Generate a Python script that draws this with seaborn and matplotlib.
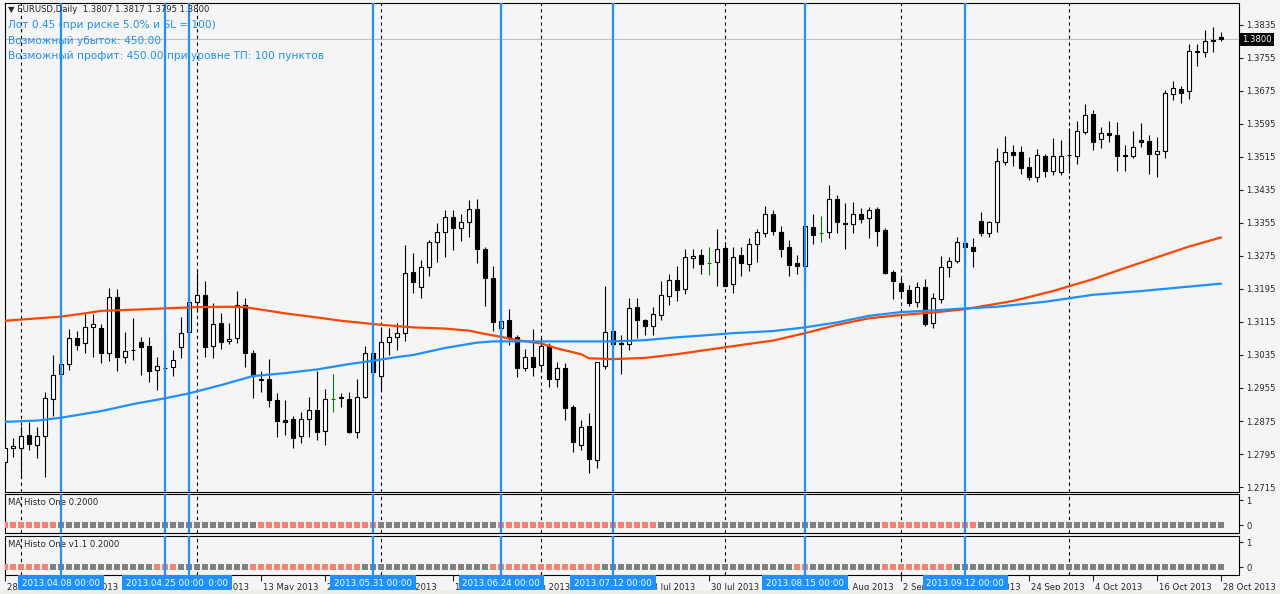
import numpy as np
import pandas as pd
import seaborn as sns
import matplotlib
matplotlib.use('Agg')
import matplotlib.pyplot as plt
from matplotlib.patches import Rectangle
from matplotlib.transforms import blended_transform_factory, ScaledTranslation

W, H = 1280, 594

# дневные бары EURUSD
dates = pd.bdate_range('2013-03-28', '2013-10-28')

opens = [1.2775, 1.2809, 1.2809, 1.2841, 1.2816, 1.2838, 1.2928, 1.2988, 1.3013, 1.3076,
         1.3063, 1.3102, 1.3100, 1.3041, 1.3175, 1.3029, 1.3048, 1.3066, 1.3057, 1.2999,
         1.3004, 1.3005, 1.3055, 1.3090, 1.3163, 1.3180, 1.3057, 1.3112, 1.3068, 1.3076,
         1.3156, 1.3041, 1.2977, 1.2977, 1.2926, 1.2877, 1.2880, 1.2839, 1.2880, 1.2902,
         1.2851, 1.2928, 1.2932, 1.2928, 1.2848, 1.2934, 1.3041, 1.2985, 1.3066, 1.3078,
         1.3088, 1.3236, 1.3199, 1.3249, 1.3308, 1.3334, 1.3369, 1.3342, 1.3358, 1.3388,
         1.3291, 1.3221, 1.3100, 1.3119, 1.3078, 1.3003, 1.3031, 1.3010, 1.3057, 1.2976,
         1.3003, 1.2908, 1.2816, 1.2864, 1.2780, 1.3008, 1.3092, 1.3063, 1.3061, 1.3151,
         1.3120, 1.3106, 1.3131, 1.3179, 1.3218, 1.3194, 1.3270, 1.3277, 1.3257, 1.3260,
         1.3294, 1.3206, 1.3277, 1.3255, 1.3303, 1.3330, 1.3377, 1.3332, 1.3296, 1.3257,
         1.3251, 1.3345, 1.3331, 1.3332, 1.3412, 1.3356, 1.3352, 1.3377, 1.3366, 1.3389,
         1.3338, 1.3236, 1.3209, 1.3193, 1.3163, 1.3199, 1.3113, 1.3170, 1.3249, 1.3263,
         1.3306, 1.3296, 1.3360, 1.3330, 1.3358, 1.3504, 1.3527, 1.3527, 1.3490, 1.3466,
         1.3518, 1.3482, 1.3478, 1.3519, 1.3518, 1.3576, 1.3619, 1.3558, 1.3572, 1.3568,
         1.3521, 1.3518, 1.3556, 1.3554, 1.3522, 1.3530, 1.3668, 1.3679, 1.3675, 1.3770,
         1.3770, 1.3799, 1.3807]
highs = [1.2841, 1.2835, 1.2863, 1.2873, 1.2861, 1.2946, 1.3035, 1.3033, 1.3098, 1.3093,
         1.3134, 1.3134, 1.3110, 1.3197, 1.3194, 1.3091, 1.3124, 1.3078, 1.3078, 1.3031,
         1.3092, 1.3047, 1.3128, 1.3182, 1.3237, 1.3214, 1.3160, 1.3138, 1.3113, 1.3190,
         1.3174, 1.3047, 1.2997, 1.3025, 1.2942, 1.2926, 1.2886, 1.2898, 1.2932, 1.2995,
         1.2952, 1.2989, 1.2944, 1.2945, 1.2976, 1.3057, 1.3057, 1.3104, 1.3100, 1.3112,
         1.3302, 1.3282, 1.3265, 1.3314, 1.3356, 1.3387, 1.3387, 1.3377, 1.3411, 1.3413,
         1.3296, 1.3251, 1.3135, 1.3147, 1.3083, 1.3049, 1.3097, 1.3076, 1.3063, 1.3019,
         1.3016, 1.2914, 1.2877, 1.2894, 1.3019, 1.3202, 1.3098, 1.3083, 1.3172, 1.3174,
         1.3122, 1.3152, 1.3214, 1.3231, 1.3250, 1.3292, 1.3292, 1.3292, 1.3296, 1.3340,
         1.3310, 1.3296, 1.3298, 1.3318, 1.3340, 1.3396, 1.3387, 1.3348, 1.3314, 1.3277,
         1.3360, 1.3376, 1.3372, 1.3447, 1.3423, 1.3404, 1.3405, 1.3392, 1.3394, 1.3393,
         1.3343, 1.3241, 1.3221, 1.3205, 1.3213, 1.3219, 1.3186, 1.3275, 1.3273, 1.3320,
         1.3322, 1.3318, 1.3381, 1.3360, 1.3536, 1.3566, 1.3545, 1.3542, 1.3516, 1.3534,
         1.3522, 1.3562, 1.3555, 1.3585, 1.3603, 1.3644, 1.3629, 1.3587, 1.3603, 1.3599,
         1.3545, 1.3578, 1.3597, 1.3569, 1.3563, 1.3677, 1.3699, 1.3686, 1.3789, 1.3789,
         1.3823, 1.3831, 1.3817]
lows = [1.2749, 1.2788, 1.2740, 1.2805, 1.2785, 1.2740, 1.2886, 1.2962, 1.2999, 1.3047,
        1.3039, 1.3031, 1.3016, 1.3021, 1.2995, 1.3015, 1.3023, 1.2987, 1.2970, 1.2950,
        1.2982, 1.2984, 1.3027, 1.3047, 1.3140, 1.3031, 1.3027, 1.3049, 1.3062, 1.3063,
        1.3005, 1.2930, 1.2946, 1.2910, 1.2837, 1.2841, 1.2810, 1.2821, 1.2837, 1.2829,
        1.2817, 1.2898, 1.2910, 1.2845, 1.2833, 1.2930, 1.2938, 1.2950, 1.3035, 1.3047,
        1.3070, 1.3186, 1.3172, 1.3227, 1.3261, 1.3273, 1.3290, 1.3312, 1.3320, 1.3257,
        1.3154, 1.3094, 1.3055, 1.3060, 1.2981, 1.2995, 1.2984, 1.2997, 1.2958, 1.2958,
        1.2877, 1.2801, 1.2805, 1.2750, 1.2760, 1.3000, 1.2993, 1.2988, 1.3046, 1.3077,
        1.3083, 1.3083, 1.3120, 1.3157, 1.3166, 1.3183, 1.3247, 1.3231, 1.3229, 1.3202,
        1.3202, 1.3185, 1.3227, 1.3239, 1.3261, 1.3322, 1.3326, 1.3273, 1.3227, 1.3231,
        1.3201, 1.3304, 1.3310, 1.3318, 1.3330, 1.3292, 1.3330, 1.3354, 1.3318, 1.3300,
        1.3231, 1.3170, 1.3172, 1.3154, 1.3152, 1.3106, 1.3100, 1.3160, 1.3225, 1.3259,
        1.3249, 1.3249, 1.3324, 1.3320, 1.3332, 1.3496, 1.3492, 1.3474, 1.3459, 1.3455,
        1.3467, 1.3471, 1.3471, 1.3476, 1.3498, 1.3571, 1.3532, 1.3538, 1.3552, 1.3480,
        1.3482, 1.3513, 1.3540, 1.3474, 1.3467, 1.3512, 1.3653, 1.3647, 1.3656, 1.3736,
        1.3758, 1.3770, 1.3795]
closes = [1.2809, 1.2814, 1.2838, 1.2819, 1.2838, 1.2930, 1.2986, 1.3013, 1.3076, 1.3060,
          1.3102, 1.3109, 1.3041, 1.3175, 1.3031, 1.3044, 1.3046, 1.3055, 1.2995, 1.3008,
          1.3003, 1.3023, 1.3088, 1.3163, 1.3180, 1.3055, 1.3109, 1.3067, 1.3073, 1.3156,
          1.3039, 1.2985, 1.2974, 1.2927, 1.2876, 1.2873, 1.2833, 1.2880, 1.2902, 1.2848,
          1.2928, 1.2928, 1.2930, 1.2848, 1.2934, 1.3039, 1.2993, 1.3066, 1.3078, 1.3088,
          1.3233, 1.3213, 1.3249, 1.3308, 1.3332, 1.3369, 1.3342, 1.3357, 1.3390, 1.3291,
          1.3221, 1.3116, 1.3118, 1.3077, 1.3003, 1.3031, 1.3005, 1.3057, 1.2976, 1.3003,
          1.2906, 1.2823, 1.2861, 1.2782, 1.3017, 1.3090, 1.3061, 1.3061, 1.3148, 1.3120,
          1.3106, 1.3135, 1.3180, 1.3218, 1.3192, 1.3272, 1.3275, 1.3256, 1.3257, 1.3291,
          1.3203, 1.3273, 1.3257, 1.3303, 1.3332, 1.3376, 1.3336, 1.3293, 1.3253, 1.3251,
          1.3348, 1.3325, 1.3331, 1.3412, 1.3358, 1.3353, 1.3377, 1.3364, 1.3387, 1.3336,
          1.3233, 1.3215, 1.3191, 1.3160, 1.3199, 1.3110, 1.3172, 1.3249, 1.3263, 1.3308,
          1.3296, 1.3288, 1.3330, 1.3358, 1.3505, 1.3527, 1.3520, 1.3488, 1.3466, 1.3520,
          1.3482, 1.3518, 1.3518, 1.3521, 1.3578, 1.3617, 1.3552, 1.3572, 1.3569, 1.3518,
          1.3518, 1.3539, 1.3552, 1.3522, 1.3530, 1.3669, 1.3682, 1.3671, 1.3773, 1.3772,
          1.3795, 1.3795, 1.3800]

# скользящие средние (номер бара, значение)
orange_idx = [0, 7, 10, 12, 15, 20, 24, 28, 30, 33, 35, 39, 42, 46, 49, 51, 55, 58, 60, 62,
              64, 67, 69, 72, 73, 76, 80, 84, 93, 96, 100, 104, 108, 112, 116, 120, 126,
              131, 136, 140, 144, 148, 152]
orange_val = [1.3118, 1.3128, 1.3136, 1.3142, 1.3144, 1.3148, 1.3151, 1.3152, 1.3151, 1.3142,
              1.3136, 1.3126, 1.3118, 1.3110, 1.3105, 1.3102, 1.3099, 1.3094, 1.3086, 1.3079,
              1.3071, 1.3063, 1.3051, 1.3037, 1.3027, 1.3025, 1.3028, 1.3037, 1.3062, 1.3070,
              1.3088, 1.3108, 1.3124, 1.3132, 1.3138, 1.3146, 1.3166, 1.3190, 1.3219, 1.3246,
              1.3272, 1.3298, 1.3320]
blue_idx = [0, 4, 7, 12, 16, 20, 23, 27, 31, 35, 39, 43, 46, 49, 51, 55, 59, 61, 70, 76, 80,
            84, 87, 91, 96, 100, 104, 108, 112, 116, 120, 124, 130, 136, 142, 147, 152]
blue_val = [1.2873, 1.2876, 1.2883, 1.2899, 1.2916, 1.2930, 1.2942, 1.2962, 1.2984, 1.2991,
            1.3000, 1.3013, 1.3021, 1.3030, 1.3035, 1.3052, 1.3065, 1.3068, 1.3068, 1.3068,
            1.3071, 1.3078, 1.3082, 1.3088, 1.3093, 1.3102, 1.3114, 1.3130, 1.3139, 1.3143,
            1.3148, 1.3152, 1.3164, 1.3181, 1.3190, 1.3199, 1.3208]

# MA Histo One: серии подряд идущих баров (цвет, длина)
histo1_runs = [('up', 7), ('dn', 25), ('up', 15), ('dn', 15), ('up', 20), ('dn', 28),
               ('up', 12), ('dn', 31)]
histo2_runs = [('up', 6), ('dn', 13), ('up', 3), ('dn', 9), ('up', 14), ('dn', 16),
               ('up', 14), ('dn', 24), ('up', 2), ('dn', 9), ('up', 9), ('dn', 34)]

# вертикальные линии (порядок отрисовки как в терминале)
vlines_dates = ['2013.04.08', '2013.04.30', '2013.04.25', '2013.05.31', '2013.06.24',
                '2013.07.12', '2013.08.15', '2013.09.12']

price_ticks = [1.3835, 1.3755, 1.3675, 1.3595, 1.3515, 1.3435, 1.3355, 1.3275, 1.3195,
               1.3115, 1.3035, 1.2955, 1.2875, 1.2795, 1.2715]

header = '\u25bc EURUSD,Daily  1.3807 1.3817 1.3795 1.3800'
info_lines = ['Лот 0.45 (при риске 5.0% и SL = 100)',
              'Возможный убыток: 450.00',
              'Возможный профит: 450.00 при уровне ТП: 100 пунктов']

BG = '#f5f5f5'
BLUE = '#1e90ff'
ORANGE = '#ff4500'
FS = 6.1

sns.set_theme(style='white', rc={'axes.facecolor': BG, 'figure.facecolor': BG,
                                 'axes.edgecolor': 'black', 'axes.linewidth': 0.8})
plt.rcParams['font.family'] = ['DejaVu Sans']

fig = plt.figure(figsize=(W / 100, H / 100), dpi=100)
fig.patches.append(Rectangle((0, 0), 1, 4 / H, transform=fig.transFigure,
                             fc='#eceee6', ec='none', zorder=0))


def rect(x0, y0, x1, y1):
    return [x0 / W, 1 - y1 / H, (x1 - x0) / W, (y1 - y0) / H]


ax = fig.add_axes(rect(4.7, 2.5, 1238.7, 491.5))
ax1 = fig.add_axes(rect(4.7, 493.5, 1238.7, 532.5))
ax2 = fig.add_axes(rect(4.7, 535.5, 1238.7, 574.5))

n = len(dates)
xs = np.arange(n)
o = np.array(opens)
c = np.array(closes)
hi = np.array(highs)
lo = np.array(lows)

for a in (ax, ax1, ax2):
    a.set_xlim(-0.04, 154.2)
    for s in a.spines.values():
        s.set_visible(True)
        s.set_color('black')
        s.set_linewidth(0.8)

# разделители месяцев
month_starts = [i for i in range(1, n) if dates[i].month != dates[i - 1].month]
for a in (ax, ax1, ax2):
    for i in month_starts:
        a.axvline(i, color='black', lw=0.8, ls=(0, (3, 3)), zorder=0.5)

# свечи
doji = o == c
bull = c > o
wick_col = np.where(doji, '#008000', 'black')
ax.vlines(xs, lo, hi, colors=wick_col, lw=0.8, zorder=2)
body_fill = np.where(bull, 'white', 'black')
nd = ~doji
ax.bar(xs[nd], (c - o)[nd], bottom=o[nd], width=0.6, color=body_fill[nd],
       edgecolor='black', linewidth=0.8, zorder=3)
ax.hlines(o[doji], xs[doji] - 0.3, xs[doji] + 0.3, colors='#008000', lw=0.8, zorder=3)

# средние
sns.lineplot(x=orange_idx, y=orange_val, ax=ax, color=ORANGE, lw=1.6, zorder=4)
sns.lineplot(x=blue_idx, y=blue_val, ax=ax, color=BLUE, lw=1.6, zorder=4)

# линия Bid
ax.axhline(closes[-1], color='#c0c0c0', lw=0.8, zorder=1)
btr = blended_transform_factory(ax.transAxes, ax.transData)
ax.text(1.003, closes[-1], f'{closes[-1]:.4f}', transform=btr, ha='left', va='center',
        color='white', fontsize=FS, clip_on=False,
        bbox=dict(boxstyle='square,pad=0.25', fc='black', ec='none'))

ax.set_ylim(1.27041, 1.38895)
ax.yaxis.tick_right()
ax.set_yticks(price_ticks)
ax.set_yticklabels([f'{p:.4f}' for p in price_ticks])
ax.tick_params(axis='y', direction='out', length=3, width=0.8, pad=2.5, labelsize=FS,
               right=True, left=False)
ax.set_xticks([])

# индикаторы
for a, runs, title in ((ax1, histo1_runs, 'MA Histo One 0.2000'),
                       (ax2, histo2_runs, 'MA Histo One v1.1 0.2000')):
    states = [st for st, k in runs for _ in range(k)]
    sns.scatterplot(x=xs, y=np.zeros(n), hue=states, ax=a, marker='s', s=19,
                    linewidth=0, palette={'up': '#fa8072', 'dn': '#808080'},
                    legend=False, zorder=3)
    a.set_ylim(-0.3, 1.28)
    a.yaxis.tick_right()
    a.set_yticks([0, 1])
    a.set_yticklabels(['0', '1'])
    a.tick_params(axis='y', direction='out', length=3, width=0.8, pad=2.5, labelsize=FS,
                  right=True, left=False)
    a.text(0.003, 0.77, title, transform=a.transAxes, fontsize=FS, va='center')
    a.set_ylabel('')
ax1.set_xticks([])

tick_idx = list(range(0, n, 8))
ax2.set_xticks(tick_idx)
ax2.set_xticklabels([f'{dates[i].day} {dates[i]:%b %Y}' for i in tick_idx], ha='left')
ax2.tick_params(axis='x', direction='out', length=4, width=0.8, pad=2, labelsize=FS,
                bottom=True)
off = ScaledTranslation(1.5 / 100, 0, fig.dpi_scale_trans)
for lab in ax2.get_xticklabels():
    lab.set_transform(lab.get_transform() + off)

# синие вертикальные линии и подписи к ним
for d in vlines_dates:
    i = dates.get_loc(pd.Timestamp(d.replace('.', '-')))
    for a in (ax, ax1, ax2):
        a.axvline(i, color=BLUE, lw=1.6, zorder=6)
for d in vlines_dates:
    i = dates.get_loc(pd.Timestamp(d.replace('.', '-')))
    tr = blended_transform_factory(ax2.transData, fig.transFigure)
    ax2.text(i, 1 - 583 / H, f'{d} 00:00', transform=tr, ha='center', va='center',
             color='white', fontsize=6.3, clip_on=False, zorder=10,
             bbox=dict(boxstyle='square,pad=0.42', fc=BLUE, ec='none'))

# надписи в главном окне
fig.text(8 / W, 1 - 10 / H, header, fontsize=FS, va='center')
for k, line in enumerate(info_lines):
    fig.text(8 / W, 1 - (25 + 15.5 * k) / H, line, fontsize=7.6, va='center', color=BLUE)

fig.savefig('out.png', dpi=100, facecolor=BG)
